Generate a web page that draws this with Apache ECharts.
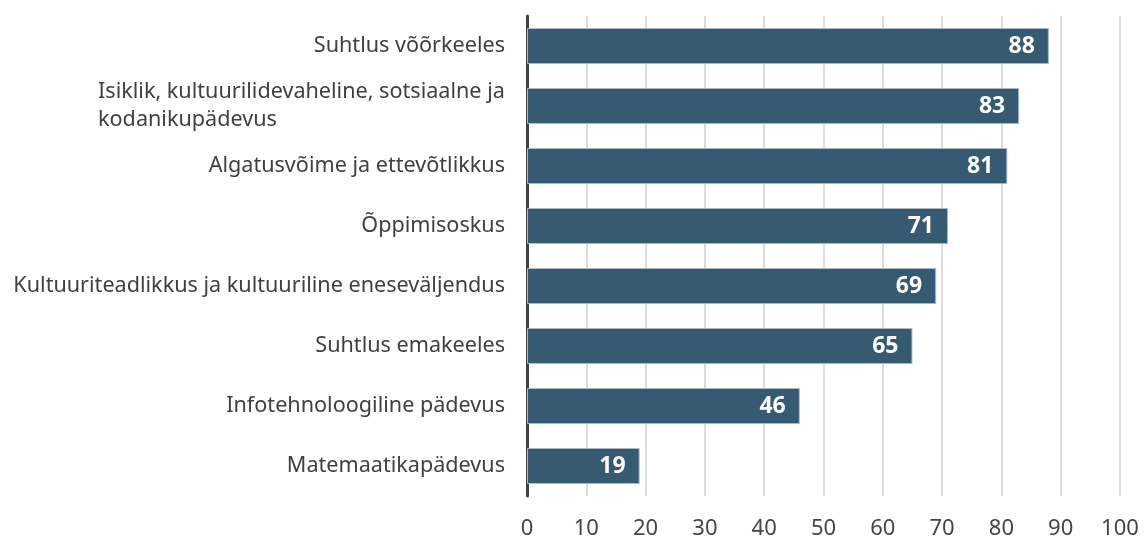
<!DOCTYPE html>
<html>
<head>
<meta charset="utf-8">
<script src="https://cdn.jsdelivr.net/npm/echarts@6/dist/echarts.min.js"></script>
<style>
    html, body {margin: 0; padding: 0; background: #fff;}
    #chart {width: 1144px; height: 541px;}
</style>
</head>
<body>
<div id="chart"></div>
<script>
    // andmed ülevalt alla
    const categories = [
        'Suhtlus võõrkeeles',
        'Isiklik, kultuurilidevaheline, sotsiaalne ja\nkodanikupädevus',
        'Algatusvõime ja ettevõtlikkus',
        'Õppimisoskus',
        'Kultuuriteadlikkus ja kultuuriline eneseväljendus',
        'Suhtlus emakeeles',
        'Infotehnoloogiline pädevus',
        'Matemaatikapädevus'
    ];
    const values = [88, 83, 81, 71, 69, 65, 46, 19];
    const tickMin = 0, tickMax = 100, tickStep = 10;

    const FONT = '"Noto Sans", sans-serif';
    const LABEL_SIZE = 21.6;

    // mitmerealise sildi read vasakule joondatud
    const ctx = document.createElement('canvas').getContext('2d');
    ctx.font = LABEL_SIZE + 'px ' + FONT;
    const multiWidth = (() => {
        const c = categories.find(c => c.indexOf('\n') >= 0);
        return Math.ceil(Math.max(...c.split('\n').map(l => ctx.measureText(l).width)));
    })();
    const labelText = cat => {
        if (cat.indexOf('\n') < 0) return cat;
        return cat.split('\n').map(l => '{m|' + l + '}').join('\n');
    };

    const chart = echarts.init(document.getElementById('chart'));
    chart.setOption({
        animation: false,
        grid: {left: 527, right: 24, top: 16, bottom: 45, containLabel: false},
        xAxis: {
            type: 'value',
            min: tickMin,
            max: tickMax,
            interval: tickStep,
            axisLine: {show: false},
            axisTick: {show: false},
            axisLabel: {fontFamily: FONT, fontSize: 22, color: '#444', margin: 22},
            splitLine: {show: true, lineStyle: {color: '#d0d0d0', width: 1.5}}
        },
        yAxis: {
            type: 'category',
            inverse: true,
            data: categories.map(labelText),
            axisLine: {show: true, lineStyle: {color: '#404040', width: 3}},
            axisTick: {show: false},
            axisLabel: {
                fontFamily: FONT, fontSize: LABEL_SIZE, color: '#404040', margin: 22, lineHeight: 28,
                rich: {m: {fontFamily: FONT, fontSize: LABEL_SIZE, color: '#404040', width: multiWidth, align: 'left', lineHeight: 28}}
            }
        },
        series: [{
            type: 'bar',
            data: values,
            barWidth: 36,
            itemStyle: {color: '#375a73', borderColor: '#a9b8c5', borderWidth: 1},
            label: {
                show: true,
                position: 'insideRight',
                distance: 14,
                color: '#fff',
                fontFamily: FONT,
                fontWeight: 'bold',
                fontSize: 23
            }
        }]
    });
</script>
</body>
</html>
